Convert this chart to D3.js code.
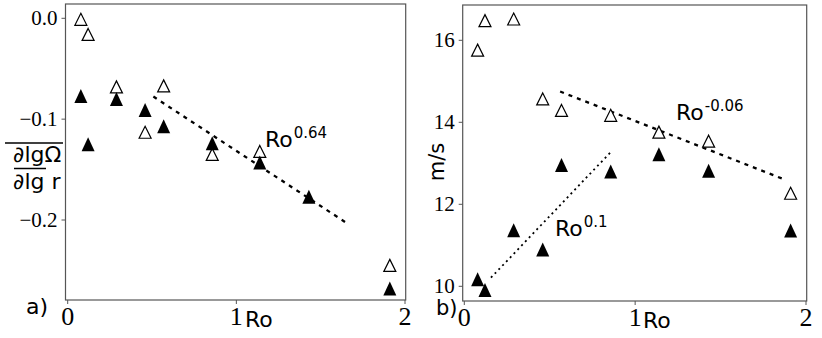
<!DOCTYPE html>
<html>
<head>
<meta charset="utf-8">
<script src="https://cdn.jsdelivr.net/npm/d3@7"></script>
<style>
  html, body { margin: 0; padding: 0; background: #fff; }
  svg text { fill: #000; }
</style>
</head>
<body>
<div id="chart"></div>
<script>
// ---- data ----
var ro          = [0.078, 0.121, 0.289, 0.459, 0.569, 0.857, 1.139, 1.430, 1.910];
var shearOpen   = [-0.001, -0.016, -0.068, -0.113, -0.067, -0.135, -0.132, null, -0.245];
var shearFilled = [-0.077, -0.125, -0.080, -0.091, -0.107, -0.124, -0.143, -0.177, -0.268];
var speedOpen   = [15.76, 16.48, 16.52, 14.57, 14.29, 14.17, 13.76, 13.54, 12.27];
var speedFilled = [10.17, 9.91, 11.37, 10.90, 12.96, 12.80, 13.22, 12.82, 11.36];

var fitShear       = [[0.508, -0.0776], [1.654, -0.2030]];
var fitSpeedOpen   = [[0.561, 14.75], [1.871, 12.61]];
var fitSpeedFilled = [[0.156, 10.21], [0.854, 13.26]];

var xTicks      = [0, 1, 2];
var shearTicks  = [0, -0.1, -0.2];
var speedTicks  = [10, 12, 14, 16];

var SERIF = "'Liberation Serif', 'Times New Roman', serif";
var SANS  = "'DejaVu Sans', sans-serif";

var svg = d3.select("#chart").append("svg")
    .attr("width", 822).attr("height", 338);

// triangle marker, centred on its box like matplotlib's "^"
function tri(w, h) {
  return "M0," + (-h / 2) + "L" + (w / 2) + "," + (h / 2) + "L" + (-w / 2) + "," + (h / 2) + "Z";
}

function panel(opt) {
  var x = d3.scaleLinear().domain([0, 2]).range(opt.xr);
  var y = d3.scaleLinear().domain(opt.yd).range(opt.yr);
  var g = svg.append("g");

  // frame
  g.append("rect")
    .attr("x", opt.box[0]).attr("y", opt.box[1])
    .attr("width", opt.box[2] - opt.box[0]).attr("height", opt.box[3] - opt.box[1])
    .attr("fill", "none").attr("stroke", "#555").attr("stroke-width", 1.2);

  // x axis ticks
  xTicks.forEach(function (t) {
    g.append("line").attr("x1", x(t)).attr("x2", x(t))
      .attr("y1", opt.box[3]).attr("y2", opt.box[3] + 4)
      .attr("stroke", "#555").attr("stroke-width", 1);
    g.append("text")
      .attr("x", x(t)).attr("y", opt.box[3] + 25)
      .attr("text-anchor", "middle")
      .attr("font-family", SERIF).attr("font-size", 26)
      .text(t);
  });

  // y axis ticks
  opt.yt.forEach(function (t) {
    g.append("line").attr("x1", opt.box[0] - 4).attr("x2", opt.box[0])
      .attr("y1", y(t)).attr("y2", y(t))
      .attr("stroke", "#555").attr("stroke-width", 1);
    g.append("text")
      .attr("x", opt.box[0] - 8).attr("y", y(t) + 7)
      .attr("text-anchor", "end")
      .attr("font-family", SERIF).attr("font-size", 21)
      .text(opt.fmt(t));
  });

  // fit lines
  opt.fits.forEach(function (f) {
    g.append("path")
      .attr("d", d3.line().x(function (d) { return x(d[0]); }).y(function (d) { return y(d[1]); })(f.pts))
      .attr("fill", "none").attr("stroke", "#000")
      .attr("stroke-width", f.w).attr("stroke-dasharray", f.dash);
  });

  // markers
  var pts = ro.map(function (r, i) { return { r: r, o: opt.open[i], f: opt.filled[i] }; });
  g.selectAll(".open").data(pts.filter(function (d) { return d.o != null; }))
    .enter().append("path").attr("class", "open")
    .attr("transform", function (d) { return "translate(" + x(d.r) + "," + y(d.o) + ")"; })
    .attr("d", tri(12, 12))
    .attr("fill", "#fff").attr("stroke", "#000").attr("stroke-width", 1.2);
  g.selectAll(".filled").data(pts)
    .enter().append("path").attr("class", "filled")
    .attr("transform", function (d) { return "translate(" + x(d.r) + "," + y(d.f) + ")"; })
    .attr("d", tri(13, 14))
    .attr("fill", "#000");

  return g;
}

function label(x, y, txt, size) {
  return svg.append("text")
    .attr("x", x).attr("y", y)
    .attr("font-family", SANS).attr("font-size", size)
    .text(txt);
}

// "Ro" with a raised exponent
function power(x, y, exp) {
  var t = svg.append("text")
    .attr("x", x).attr("y", y)
    .attr("font-family", SANS).attr("font-size", 22);
  t.append("tspan").text("Ro");
  t.append("tspan").attr("dy", -9).attr("dx", 1).attr("font-size", 15).text(exp);
}

// ---- panel a ----
panel({
  xr: [67.7, 405], box: [65.5, 4, 405.7, 300],
  yd: [0, -0.2], yr: [18.3, 220], yt: shearTicks,
  fmt: function (t) { return t === 0 ? "0.0" : "\u2212" + Math.abs(t).toFixed(1); },
  open: shearOpen, filled: shearFilled,
  fits: [{ pts: fitShear, w: 2.3, dash: "4,5" }]
});

// ---- panel b ----
panel({
  xr: [464.3, 806], box: [462.7, 5, 806.7, 301],
  yd: [10, 16], yr: [286.3, 40.3], yt: speedTicks,
  fmt: function (t) { return t; },
  open: speedOpen, filled: speedFilled,
  fits: [{ pts: fitSpeedOpen, w: 2.3, dash: "4,5" },
         { pts: fitSpeedFilled, w: 1.8, dash: "2,3.5" }]
});

// axis labels and panel letters
label(245, 327, "Ro", 22);
label(643, 328, "Ro", 22);
label(26, 314, "a)", 22);
label(436, 315, "b)", 21);

// fraction on left
label(13, 161.5, "\u2202lg\u03A9", 22);
label(13, 188.5, "\u2202lg r", 22);
svg.append("line").attr("x1", 5).attr("x2", 63).attr("y1", 143).attr("y2", 143)
  .attr("stroke", "#000").attr("stroke-width", 1.5);
svg.append("line").attr("x1", 14).attr("x2", 46).attr("y1", 168.5).attr("y2", 168.5)
  .attr("stroke", "#000").attr("stroke-width", 1.5);

// m/s rotated
svg.append("text")
  .attr("transform", "translate(444,162) rotate(-90)")
  .attr("text-anchor", "middle")
  .attr("font-family", SANS).attr("font-size", 21)
  .text("m/s");

// power-law annotations
power(265, 146.5, "0.64");
power(676, 120, "-0.06");
power(555, 236, "0.1");
</script>
</body>
</html>
